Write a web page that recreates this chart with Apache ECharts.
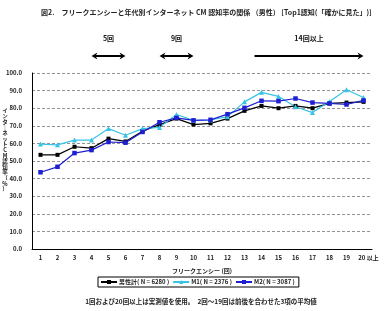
<!DOCTYPE html>
<html>
<head>
<meta charset="utf-8">
<script src="https://cdn.jsdelivr.net/npm/echarts@6/dist/echarts.min.js"></script>
<style>
  html, body { margin: 0; padding: 0; background: #fff; }
  #chart { width: 384px; height: 311px; }
</style>
</head>
<body>
<div id="chart"></div>
<script>
// frequency categories (times)
var freq = ['1','2','3','4','5','6','7','8','9','10','11','12','13','14','15','16','17','18','19','20'];
// recognition rate (%)
var menTotal = [53.5,53.5,58.1,57.3,62.7,61.1,66.9,70.7,74.1,70.7,71.4,74.1,78.5,81.3,80.0,81.3,80.0,82.7,83.2,83.6];
var m1       = [59.6,59.2,61.9,61.9,68.4,64.6,68.4,69.1,76.4,73.1,73.3,75.2,83.6,89.0,86.7,80.8,77.5,83.8,90.5,86.1];
var m2       = [43.6,46.7,54.5,56.2,60.8,60.4,66.5,72.0,74.5,73.1,73.4,76.6,80.2,84.2,84.0,85.5,83.2,82.7,82.1,84.4];
var seriesNames = ['男性計( N = 6280 )', 'M1( N = 2376 )', 'M2( N = 3087 )'];
// annotation ranges: [from, to, label, double-headed]
var ranges = [['4','6','5回',true], ['8','10','9回',true], ['14','20','14回以上',false]];

var font = '"Noto Sans CJK JP", "Noto Sans", sans-serif';
var chart = echarts.init(document.getElementById('chart'));

function lineSeries(name, data, color, symbol, size) {
    return {
        name: name,
        type: 'line',
        data: data,
        symbol: symbol,
        symbolSize: size,
        lineStyle: { color: color, width: 1.2 },
        itemStyle: { color: color },
        animation: false
    };
}

var option = {
    backgroundColor: '#fff',
    textStyle: { fontFamily: font },
    title: {
        text: '図2.　フリークエンシーと年代別インターネット CM 認知率の関係 （男性） [Top1認知(「確かに見た」)]',
        left: 36,
        top: 4,
        textStyle: { fontSize: 7, fontWeight: 'bold', color: '#222', fontFamily: font }
    },
    grid: { left: 32, right: 12, top: 73, bottom: 62 },
    legend: {
        data: seriesNames,
        left: 98,
        top: 277,
        padding: [2, 4, 2, 2],
        borderColor: '#000',
        borderWidth: 1,
        itemGap: 3,
        itemWidth: 16,
        itemHeight: 5,
        textStyle: { fontSize: 6, fontWeight: 'bold', color: '#222', padding: [0, 0, 0, -3] }
    },
    xAxis: {
        type: 'category',
        data: freq,
        boundaryGap: true,
        name: 'フリークエンシー (回)',
        nameLocation: 'middle',
        nameGap: 19,
        nameTextStyle: { fontSize: 6, fontWeight: 'bold', color: '#222' },
        axisLine: { lineStyle: { color: '#000', width: 1 } },
        axisTick: { show: false },
        axisLabel: {
            interval: 0,
            fontSize: 6, fontWeight: 'bold', color: '#222', margin: 6,
            formatter: function (v) { return v === '20' ? '{a|20}{b| 以上}' : v; },
            rich: {
                a: { fontSize: 6, fontWeight: 'bold', color: '#222', padding: [0, 0, 0, 10] },
                b: { fontSize: 6, fontWeight: 'bold', color: '#222' }
            }
        }
    },
    yAxis: {
        type: 'value',
        min: 0,
        max: 100,
        interval: 10,
        axisLine: { show: true, lineStyle: { color: '#000', width: 1 } },
        axisTick: { show: false },
        axisLabel: {
            fontSize: 6, fontWeight: 'bold', color: '#222', margin: 10,
            formatter: function (v) { return v.toFixed(1); }
        },
        splitLine: { lineStyle: { color: '#777', type: [3, 2], width: 0.8 } }
    },
    series: [
        lineSeries(seriesNames[0], menTotal, '#000000', 'rect', 4),
        lineSeries(seriesNames[1], m1, '#38c4e6', 'triangle', 5),
        lineSeries(seriesNames[2], m2, '#1e1ed2', 'rect', 4.5)
    ]
};
chart.setOption(option);

// annotation arrows above the grid, placed from category positions
var graphics = [];
var arrowY = 56;
var ink = '#000';
ranges.forEach(function (r) {
    var x1 = chart.convertToPixel({ xAxisIndex: 0 }, r[0]);
    var x2 = chart.convertToPixel({ xAxisIndex: 0 }, r[1]);
    if (!r[3]) x1 -= 7;
    graphics.push({
        type: 'line',
        shape: { x1: x1 + (r[3] ? 3 : 0), y1: arrowY, x2: x2 - 3, y2: arrowY },
        style: { stroke: ink, lineWidth: 2 }
    });
    graphics.push({
        type: 'polygon',
        shape: { points: [[x2, arrowY], [x2 - 6, arrowY - 3.5], [x2 - 4, arrowY], [x2 - 6, arrowY + 3.5]] },
        style: { fill: ink }
    });
    if (r[3]) {
        graphics.push({
            type: 'polygon',
            shape: { points: [[x1, arrowY], [x1 + 6, arrowY - 3.5], [x1 + 4, arrowY], [x1 + 6, arrowY + 3.5]] },
            style: { fill: ink }
        });
    }
    graphics.push({
        type: 'text',
        x: (x1 + x2) / 2,
        y: 38,
        style: {
            text: r[2], fontSize: 7, fontWeight: 'bold', fill: '#111', fontFamily: font,
            align: 'center', verticalAlign: 'middle'
        }
    });
});
// vertical y-axis caption
graphics.push({
    type: 'text',
    x: 5,
    y: 150,
    style: {
        text: 'インターネットCM認知率（%）'.split('').map(function (c) { return c === 'ー' ? '｜' : c; }).join('\n'),
        fontSize: 5.5, lineHeight: 5.6, fontWeight: 'bold', fill: '#222', fontFamily: font,
        align: 'center', verticalAlign: 'middle'
    }
});
// footnote
graphics.push({
    type: 'text',
    x: 201,
    y: 302,
    style: {
        text: '1回および20回以上は実測値を使用。　2回～19回は前後を合わせた3項の平均値',
        fontSize: 6.5, fontWeight: 'bold', fill: '#222', fontFamily: font,
        align: 'center', verticalAlign: 'middle'
    }
});
chart.setOption({ graphic: graphics });
</script>
</body>
</html>
